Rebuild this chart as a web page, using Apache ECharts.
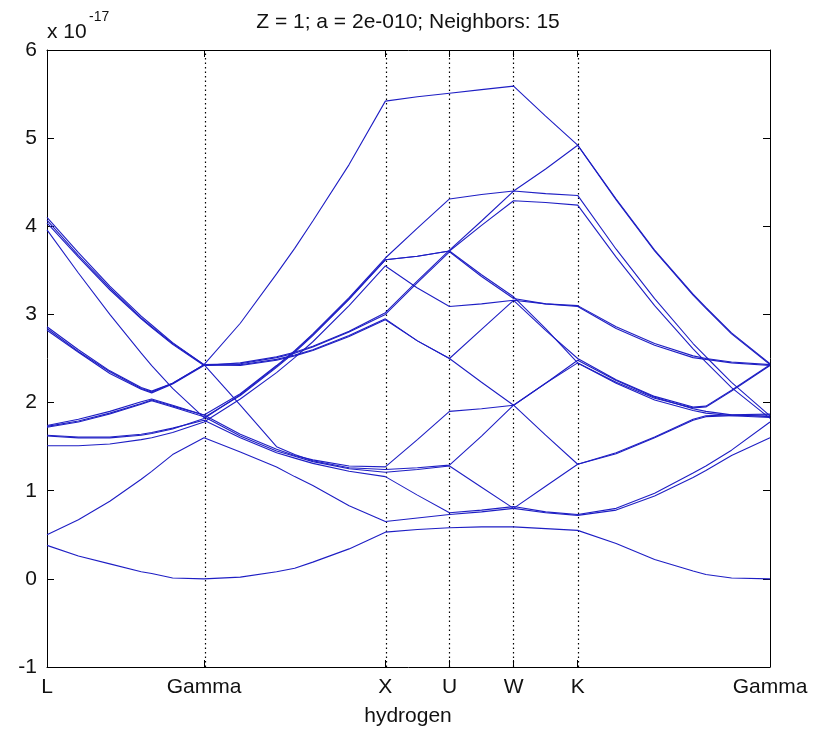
<!DOCTYPE html>
<html>
<head>
<meta charset="utf-8">
<script src="https://cdn.jsdelivr.net/npm/echarts@6/dist/echarts.min.js"></script>
<style>
html,body{margin:0;padding:0;background:#fff;}
#chart{width:828px;height:736px;}
</style>
</head>
<body>
<div id="chart"></div>
<script>
// k-path positions (L -> Gamma -> X -> U -> W -> K -> Gamma)
const kPoints = [0, 0.1732, 0.3464, 0.5196, 0.5774, 0.6928, 0.8660,
  1.0660, 1.2660, 1.3660, 1.4660, 1.6660, 1.8660,
  2.0428, 2.2196, 2.3964, 2.5731, 2.7499, 2.9267,
  3.1388, 3.3510, 3.5631, 3.6338, 3.7752, 3.9873];
const tickPos = [0, 0.8660, 1.8660, 2.2196, 2.5731, 2.9267, 3.9873];
const tickNames = ['L', 'Gamma', 'X', 'U', 'W', 'K', 'Gamma'];
const yTicks = [-1, 0, 1, 2, 3, 4, 5, 6];

// energy bands (units of 1e-17)
const band1  = [0.38,0.26,0.17,0.08,0.06,0.01,0, 0.02,0.08,0.12,0.19,0.34,0.53, 0.56,0.58, 0.59,0.59, 0.57,0.55, 0.40,0.22,0.09,0.05,0.01,0];
const band2  = [0.50,0.67,0.88,1.13,1.22,1.41,1.60, 1.44,1.27,1.16,1.06,0.83,0.65, 0.69,0.73, 0.76,0.80, 1.05,1.30, 1.42,1.60,1.80,1.84,1.85,1.86];
const band3  = [1.73,1.79,1.88,1.99,2.03,1.96,1.86, 1.64,1.47,1.40,1.35,1.28,1.27, 1.58,1.90, 1.93,1.97, 2.22,2.48, 2.25,2.06,1.93,1.90,1.86,1.84];
const band4  = [1.51,1.51,1.53,1.58,1.60,1.66,1.78, 2.04,2.34,2.51,2.69,3.10,3.55, 3.30,3.09, 3.12,3.16, 2.82,2.50, 2.26,2.07,1.95,1.96,2.14,2.43];
const band5  = [1.63,1.61,1.61,1.64,1.66,1.71,1.80, 1.60,1.43,1.37,1.31,1.22,1.16, 0.95,0.75, 0.78,0.82, 0.76,0.73, 0.80,0.97,1.20,1.28,1.46,1.78];
const band6  = [1.72,1.78,1.87,1.98,2.02,1.95,1.84, 1.62,1.45,1.39,1.33,1.25,1.21, 1.24,1.28, 1.04,0.80, 0.75,0.72, 0.78,0.94,1.15,1.23,1.40,1.60];
const band7  = [3.96,3.47,3.00,2.56,2.42,2.16,1.83, 2.08,2.40,2.57,2.76,3.17,3.62, 3.66,3.72, 4.01,4.29, 4.27,4.24, 3.65,3.10,2.61,2.46,2.17,1.82];
const band8  = [1.74,1.81,1.90,2.01,2.04,1.97,1.86, 2.10,2.42,2.59,2.78,3.19,3.64, 3.98,4.31, 4.36,4.40, 4.37,4.35, 3.74,3.18,2.67,2.52,2.23,1.85];
const band9  = [1.62,1.60,1.60,1.63,1.65,1.70,1.82, 2.09,2.41,2.58,2.77,3.18,3.62, 3.66,3.72, 3.45,3.20, 2.84,2.45, 2.23,2.05,1.94,1.95,2.13,2.42];
const band10 = [2.86,2.60,2.36,2.17,2.13,2.22,2.43, 1.97,1.50,1.41,1.34,1.26,1.24, 1.26,1.29, 1.62,1.97, 2.22,2.45, 2.22,2.03,1.91,1.88,1.85,1.83];
const band11 = [2.82,2.57,2.33,2.15,2.11,2.21,2.42, 2.45,2.52,2.57,2.64,2.81,3.02, 3.38,3.73, 4.06,4.40, 4.65,4.92, 4.30,3.72,3.22,3.07,2.78,2.43];
const band12 = [2.84,2.58,2.35,2.16,2.12,2.22,2.43, 2.44,2.51,2.56,2.63,2.80,3.00, 3.36,3.71, 3.43,3.18, 3.12,3.10, 2.86,2.67,2.53,2.50,2.46,2.43];
const band13 = [4.10,3.70,3.32,2.98,2.88,2.68,2.43, 2.90,3.46,3.75,4.06,4.70,5.42, 5.47,5.51, 5.55,5.59, 5.25,4.92, 4.31,3.73,3.23,3.08,2.79,2.44];
const band14 = [4.04,3.65,3.28,2.95,2.85,2.66,2.42, 2.43,2.49,2.54,2.60,2.76,2.95, 2.70,2.50, 2.23,1.97, 1.63,1.30, 1.43,1.61,1.81,1.85,1.86,1.87];
const band15 = [4.07,3.67,3.30,2.96,2.86,2.67,2.43, 2.42,2.48,2.53,2.59,2.75,2.94, 2.70,2.50, 2.83,3.16, 3.12,3.09, 2.84,2.65,2.51,2.49,2.45,2.42];

const bands = [band1,band2,band3,band4,band5,band6,band7,band8,band9,band10,band11,band12,band13,band14,band15];

const FONT = 'Liberation Sans, Arial, sans-serif';
const LINE_COLOR = '#1e1ec4';
const chart = echarts.init(document.getElementById('chart'));

function tickName(v) {
  for (let i = 0; i < tickPos.length; i++) {
    if (Math.abs(tickPos[i] - v) < 1e-6) return tickNames[i];
  }
  return '';
}

const series = bands.map((b, idx) => ({
  type: 'line',
  data: kPoints.map((k, i) => [k, b[i]]),
  symbol: 'none',
  showSymbol: false,
  xAxisIndex: 0,
  yAxisIndex: 0,
  lineStyle: { color: LINE_COLOR, width: 1.1 },
  itemStyle: { color: LINE_COLOR },
  z: 3,
  silent: true
}));

series[0].markLine = {
  silent: true,
  symbol: ['none', 'none'],
  label: { show: false },
  lineStyle: { color: '#000', width: 1.2, type: [1.5, 3] },
  data: tickPos.slice(1, 6).map(v => ({ xAxis: v })),
  animation: false,
  z: 1
};

const xBase = {
  type: 'value',
  min: tickPos[0],
  max: tickPos[tickPos.length - 1],
  splitLine: { show: false },
  axisLine: { show: true, onZero: false, lineStyle: { color: '#000', width: 1 } },
  axisTick: { show: true, inside: true, length: 7, customValues: tickPos, lineStyle: { color: '#000' } },
};

const yBase = {
  type: 'value',
  min: yTicks[0],
  max: yTicks[yTicks.length - 1],
  interval: 1,
  splitLine: { show: false },
  axisLine: { show: true, onZero: false, lineStyle: { color: '#000', width: 1 } },
  axisTick: { show: true, inside: true, length: 7, lineStyle: { color: '#000' } },
};

chart.setOption({
  animation: false,
  backgroundColor: '#fff',
  grid: { left: 47, right: 58, top: 50, bottom: 69, containLabel: false },
  xAxis: [
    Object.assign({}, xBase, {
      position: 'bottom',
      axisLabel: {
        show: true, customValues: tickPos, formatter: v => tickName(v),
        color: '#111', fontFamily: FONT, fontSize: 21, margin: 10
      }
    }),
    Object.assign({}, xBase, {
      position: 'top',
      axisLabel: { show: false }
    })
  ],
  yAxis: [
    Object.assign({}, yBase, {
      position: 'left',
      axisLabel: { show: true, color: '#111', fontFamily: FONT, fontSize: 21, margin: 10 }
    }),
    Object.assign({}, yBase, {
      position: 'right',
      axisLabel: { show: false }
    })
  ],
  series: series,
  graphic: [
    { type: 'text', left: null, x: 408, y: 22, style: { text: 'Z = 1; a = 2e-010; Neighbors: 15', font: '21px ' + FONT, fill: '#111', align: 'center', verticalAlign: 'middle' } },
    { type: 'text', x: 47, y: 32, style: { text: 'x 10', font: '21px ' + FONT, fill: '#111', align: 'left', verticalAlign: 'middle' } },
    { type: 'text', x: 89, y: 17, style: { text: '-17', font: '14px ' + FONT, fill: '#111', align: 'left', verticalAlign: 'middle' } },
    { type: 'text', x: 408, y: 716, style: { text: 'hydrogen', font: '21px ' + FONT, fill: '#111', align: 'center', verticalAlign: 'middle' } }
  ]
});
</script>
</body>
</html>
